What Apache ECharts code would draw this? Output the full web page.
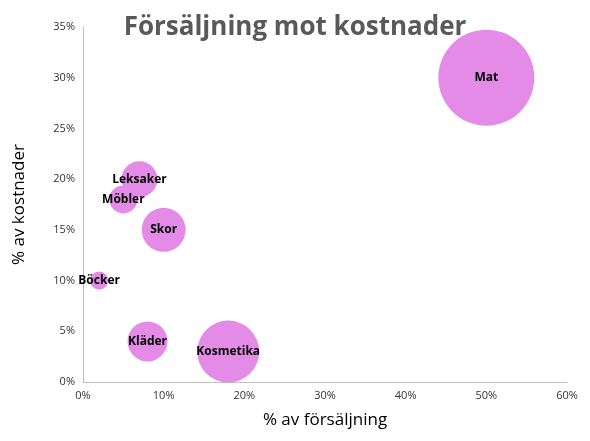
<!DOCTYPE html>
<html><head><meta charset="utf-8">
<script src="https://cdn.jsdelivr.net/npm/echarts@6/dist/echarts.min.js"></script>
<style>html,body{margin:0;padding:0;background:#fff}#c{width:590px;height:441px}</style>
</head><body><div id="c"></div>
<script>
const names = ['Mat','Kosmetika','Kläder','Skor','Leksaker','Möbler','Böcker'];
const sales = [50,18,8,10,7,5,2];
const costs = [30,3,4,15,20,18,10];
const sizes = [96,62,40,44,36,28,18];
const chart = echarts.init(document.getElementById('c'));
chart.setOption({
  animation:false,
  title:{text:'Försäljning mot kostnader',left:290,top:10,textAlign:'center',
    textStyle:{fontFamily:'Open Sans',fontWeight:'bold',fontSize:26,color:'#595959'}},
  grid:{left:83,right:23,top:27,bottom:59},
  xAxis:{type:'value',min:0,max:60,interval:10,
    name:'% av försäljning',nameLocation:'middle',nameGap:30,
    nameTextStyle:{fontFamily:'Open Sans',fontSize:17,color:'#000'},
    axisLabel:{formatter:'{value}%',fontFamily:'Open Sans',fontSize:11,color:'#333'},
    axisLine:{show:true,lineStyle:{color:'#bfbfbf'}},axisTick:{show:false},splitLine:{show:false}},
  yAxis:{type:'value',min:0,max:35,interval:5,
    name:'% av kostnader',nameLocation:'middle',nameGap:55,
    nameTextStyle:{fontFamily:'Open Sans',fontSize:17,color:'#000'},
    axisLabel:{formatter:'{value}%',fontFamily:'Open Sans',fontSize:11,color:'#333'},
    axisLine:{show:true,lineStyle:{color:'#bfbfbf'}},axisTick:{show:false},splitLine:{show:false}},
  series:[{type:'scatter',
    data:names.map((n,i)=>({name:n,value:[sales[i],costs[i],sizes[i]]})),
    symbolSize:v=>v[2],
    itemStyle:{color:'#e38be6',opacity:1},
    label:{show:true,formatter:'{b}',position:'inside',color:'#000',
      fontFamily:'Open Sans',fontWeight:'bold',fontSize:12}
  }]
});
</script></body></html>
